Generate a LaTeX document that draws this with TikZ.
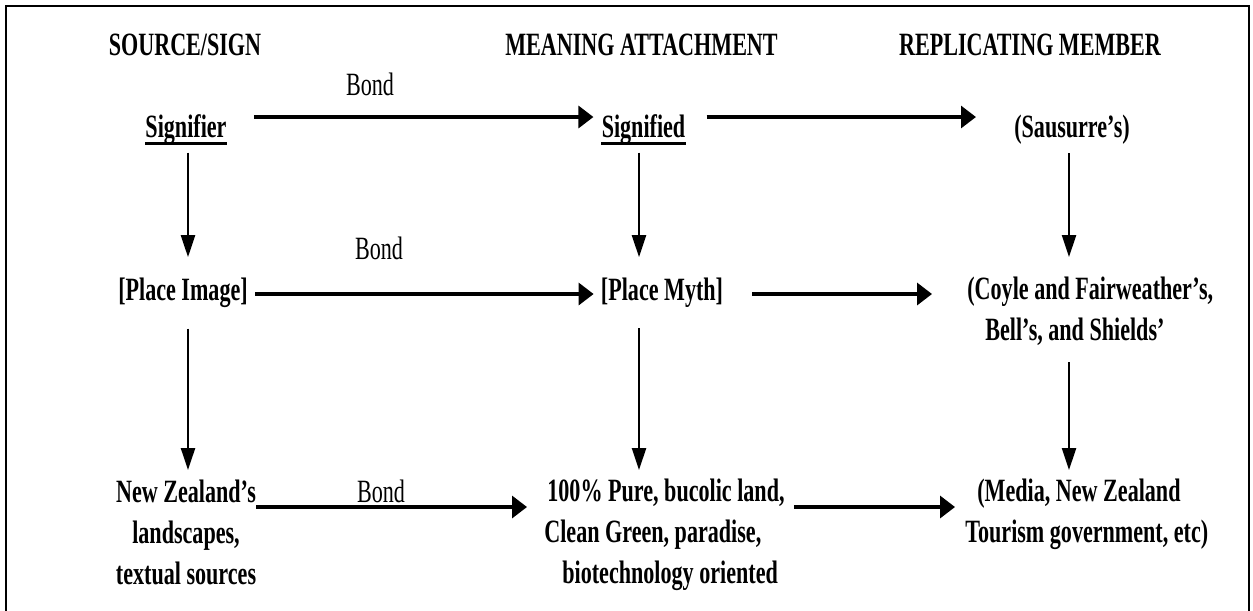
\documentclass[tikz,border=0pt]{standalone}
\usepackage{fontspec}
\setmainfont[FakeStretch=0.68]{Liberation Serif}
\usepackage{tikz}
\usetikzlibrary{arrows.meta,positioning,calc}
\definecolor{ink}{HTML}{000000}
\tikzset{
  lab/.style={inner sep=0pt,font=\fontsize{18.5}{23.2}\selectfont\bfseries,text=ink},
  term/.style={lab,anchor=base},
  multi/.style={lab,anchor=north west,align=left},
  bond/.style={inner sep=0pt,anchor=base,font=\fontsize{18.5}{23.2}\selectfont,text=ink},
  harr/.style={-{Triangle[length=8.5pt,width=12.5pt]},line width=1.8pt,draw=ink},
  varr/.style={-{Triangle[length=12.5pt,width=8pt]},line width=1.2pt,draw=ink},
  uline/.style={line width=1.8pt,draw=ink},
  frame/.style={line width=1.2pt,draw=ink}
}

\begin{document}
\begin{tikzpicture}[x=0.02cm,y=-0.02cm]
  \useasboundingbox (0,0) rectangle (1253,610);
  \draw[frame] (6,6) rectangle (1249,620);
  % column heads
  \node[term] (hsrc) at (185,55) {SOURCE/SIGN};
  \node[term] (hmean) at (641.5,55) {MEANING ATTACHMENT};
  \node[term] (hrep) at (1030,55) {REPLICATING MEMBER};
  % arrow rows and columns
  \coordinate (r1) at (0,117);
  \coordinate (r2) at (0,294);
  \coordinate (r3) at (0,507);
  \coordinate (c1) at (188,0);
  \coordinate (c2) at (639,0);
  \coordinate (c3) at (1069,0);
  % first row
  \node[term] (sgnr) at (186,137) {Signifier};
  \node[term] (sgnd) at (643.5,137) {Signified};
  \node[term] (saus) at (1072,137) {(Sausurre’s)};
  \foreach \n in {sgnr,sgnd}
    \draw[uline] ([yshift=-3.7pt]\n.base west) -- ([yshift=-3.7pt]\n.base east);
  % second row
  \node[term] (pimg) at (183,300) {[Place Image]};
  \node[term] (pmyth) at (662,300) {[Place Myth]};
  \node[multi] (coyle) at (967,277) {(Coyle and Fairweather’s,\\\hspace*{0.36cm}Bell’s, and Shields’};
  % third row
  \node[lab,anchor=north,align=center] (nzl) at (186,480) {New Zealand’s\\landscapes,\\textual sources};
  \node[multi] (pure) at (544,479) {\hspace*{0.06cm}100\% Pure, bucolic land,\\Clean Green, paradise,\\\hspace*{0.36cm}biotechnology oriented};
  \node[multi] (media) at (965,479) {\hspace*{0.24cm}(Media, New Zealand\\Tourism government, etc)};
  % bond labels
  \node[bond] (bond1) at (370,95) {Bond};
  \node[bond] (bond2) at (379,259) {Bond};
  \node[bond] (bond3) at (381,502) {Bond};
  % horizontal links
  \draw[harr,shorten <=0.54cm,shorten >=0.16cm] (sgnr.east|-r1) -- (sgnd.west|-r1);
  \draw[harr,shorten <=0.42cm,shorten >=0.76cm] (sgnd.east|-r1) -- (saus.west|-r1);
  \draw[harr,shorten <=0.14cm,shorten >=0.14cm] (pimg.east|-r2) -- (pmyth.west|-r2);
  \draw[harr,shorten <=0.58cm,shorten >=0.7cm] (pmyth.east|-r2) -- (coyle.west|-r2);
  \draw[harr,shorten >=0.34cm] (nzl.east|-r3) -- (pure.west|-r3);
  \draw[harr,shorten <=0.18cm,shorten >=0.2cm] (pure.east|-r3) -- (media.west|-r3);
  % vertical links
  \foreach \a/\b/\c/\s/\e in {sgnr/pimg/c1/0.16/0.4,sgnd/pmyth/c2/0.16/0.4,saus/coyle/c3/0.18/0.4,
      pimg/nzl/c1/0.42/0.2,pmyth/pure/c2/0.42/0.18,coyle/media/c3/0.32/0.18}
    \draw[varr,shorten <=\s cm,shorten >=\e cm] (\a.south-|\c) -- (\b.north-|\c);
\end{tikzpicture}
\end{document}
